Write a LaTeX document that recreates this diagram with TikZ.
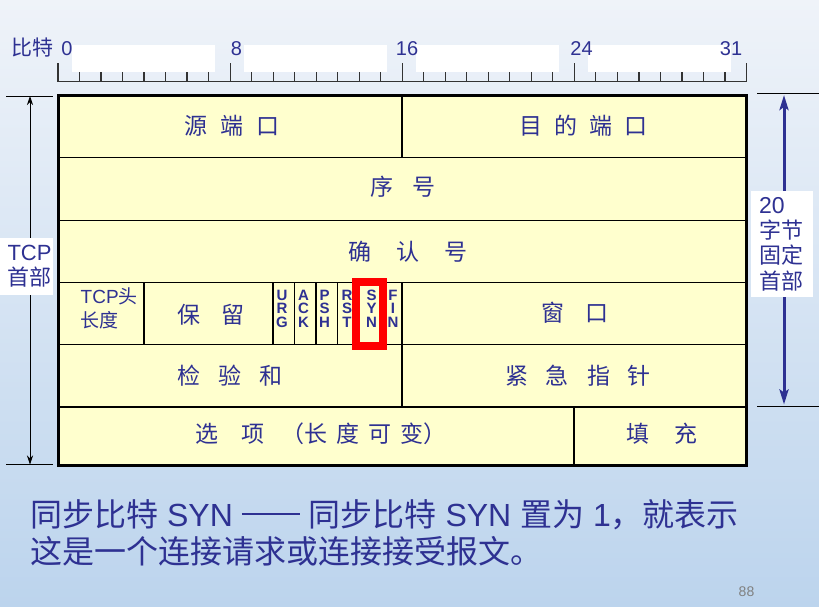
\documentclass[tikz,border=0pt]{standalone}
\usepackage{fontspec}
\setmainfont{Liberation Sans}
\newfontfamily\cjk{Noto Sans CJK SC}
\usetikzlibrary{arrows.meta}
\definecolor{navy}{RGB}{46,49,146}
\definecolor{cellfill}{RGB}{255,255,206}
\definecolor{bgtop}{RGB}{239,243,249}
\definecolor{bgmid}{RGB}{216,229,243}
\definecolor{bgbot}{RGB}{188,212,237}
\newcommand\hg[1]{\hspace{#1pt}}
\begin{document}
\begin{tikzpicture}[x=1pt,y=-1pt,
  cell/.style={inner sep=0pt, text=navy, font=\cjk\fontsize{23}{27}\selectfont},
  flag/.style={inner sep=0pt, text=navy, font=\bfseries\fontsize{15}{15}\selectfont},
  rul/.style={inner sep=0pt, text=navy, anchor=base, font=\fontsize{20}{24}\selectfont},
  thin/.style={line width=1.3pt, black},
  side/.style={inner sep=0pt, text=navy},
  bottomtxt/.style={inner sep=0pt, text=navy, anchor=base west, font=\fontsize{32}{38}\selectfont}
]
\useasboundingbox (0,0) rectangle (819,606);
\shade[top color=bgtop, middle color=bgmid, bottom color=bgbot] (0,0) rectangle (819,606);

% ruler
\fill[white] (72,45) rectangle (215,72);
\fill[white] (244,45) rectangle (387,72);
\fill[white] (416,45) rectangle (559,72);
\fill[white] (588,45) rectangle (731,72);
\draw[line width=1.2pt, black!80] (58,81.5) -- (746.5,81.5);
\foreach \i in {0,...,32}{
  \pgfmathsetmacro\xx{58+\i*21.5156}
  \pgfmathtruncatemacro\mm{mod(\i,8)}
  \ifnum\mm=0
    \draw[line width=1.2pt, black!80] (\xx,63) -- (\xx,81.5);
  \else
    \draw[line width=1.2pt, black!80] (\xx,72) -- (\xx,81.5);
  \fi
}
\node[rul, font=\cjk\fontsize{21}{24}\selectfont] (bitlbl) at (32.5,55) {比特};
\node[rul] (b0) at (67,55) {0};
\node[rul] (b8) at (236.5,55) {8};
\node[rul] (b16) at (407,55) {16};
\node[rul] (b24) at (581.5,55) {24};
\node[rul] (b31) at (731,55) {31};

% table
\fill[cellfill] (58,95.5) rectangle (746.5,465);
\draw[thin] (58,157.5) -- (746.5,157.5);
\draw[thin] (58,220.5) -- (746.5,220.5);
\draw[thin] (58,282.5) -- (746.5,282.5);
\draw[thin] (58,344.5) -- (746.5,344.5);
\draw[thin] (58,407) -- (746.5,407);
\draw[thin] (402,95.5) -- (402,157.5);
\draw[thin] (402,282.5) -- (402,407);
\draw[thin] (144,282.5) -- (144,344.5);
\foreach \xx in {273,294.5,316,337.5,359,380.5}{
  \draw[thin] (\xx,282.5) -- (\xx,344.5);
}
\draw[thin] (574,407) -- (574,465);
\draw[line width=3pt, black] (58,95.5) rectangle (746.5,465);

\node[cell] (src) at (232,126) {源\hg{13}端\hg{13}口};
\node[cell] (dst) at (583.5,126) {目\hg{12}的\hg{12}端\hg{12}口};
\node[cell] (seq) at (402.7,187) {序\hg{19}号};
\node[cell] (ack) at (408,252) {确\hg{25}认\hg{25}号};
\node[inner sep=0pt, text=navy, anchor=west, align=left, font=\fontsize{19}{24}\selectfont] (hlen) at (80.5,308) {TCP{\cjk 头}\\{\cjk 长度}};
\node[cell] (rsv) at (210.5,315) {保\hg{21}留};
\node[cell] (win) at (575,313) {窗\hg{21}口};
\node[cell] (chk) at (230,376) {检\hg{18}验\hg{18}和};
\node[cell] (urgp) at (578,376) {紧\hg{18}急\hg{18}指\hg{18}针};
\node[cell, anchor=west] (opt) at (195,434) {选\hg{23}项\hg{17}（长\hg{9}度\hg{9}可\hg{9}变）};
\node[cell] (pad) at (662,434) {填\hg{25}充};

% flag letters, one node per letter
\foreach \xx/\a/\b/\c/\nm in {282/U/R/G/urg, 303.5/A/C/K/ack, 324.5/P/S/H/psh, 347/R/S/T/rst, 371.5/S/Y/N/syn, 393/F/I/N/fin}{
  \node[flag] (\nm-1) at (\xx,295.2) {\a};
  \node[flag] (\nm-2) at (\xx,308.6) {\b};
  \node[flag] (\nm-3) at (\xx,322) {\c};
}

\draw[red, line width=8pt] (355.5,282) rectangle (382.5,346);

% left arrow
\coordinate (lt) at (30,96);
\coordinate (lb) at (30,464.5);
\coordinate (lt1) at (6,96);
\coordinate (lt2) at (53,96);
\coordinate (lb1) at (6,464.5);
\coordinate (lb2) at (53,464.5);
\draw[line width=0.8pt] (lt1) -- (lt2);
\draw[line width=0.8pt] (lb1) -- (lb2);
\draw[line width=0.8pt, {Stealth[length=9pt,width=6pt]}-{Stealth[length=9pt,width=6pt]}] (lt) -- (lb);
\node[fill=white, minimum width=53pt, minimum height=57pt, inner sep=0pt] (lbox) at (26.5,266.5) {};
\node[side, align=center, font=\fontsize{22}{25}\selectfont] (llbl) at (29.5,266) {TCP\\{\cjk 首部}};

% right arrow
\coordinate (rt) at (784,95);
\coordinate (rb) at (784,404.5);
\coordinate (rt1) at (757,93.5);
\coordinate (rt2) at (819,93.5);
\coordinate (rb1) at (757,406);
\coordinate (rb2) at (819,406);
\draw[line width=0.8pt] (rt1) -- (rt2);
\draw[line width=0.8pt] (rb1) -- (rb2);
\draw[navy, line width=3pt, {Stealth[length=15pt,width=9pt,inset=3pt]}-{Stealth[length=15pt,width=9pt,inset=3pt]}] (rt) -- (rb);
\node[fill=white, minimum width=62pt, minimum height=106pt, inner sep=0pt] (rbox) at (782,244) {};
\node[side, anchor=west, align=left, font=\fontsize{22}{25.3}\selectfont] (rlbl) at (759,244) {{\fontsize{23}{25.3}\selectfont 20}\\{\cjk 字节}\\{\cjk 固定}\\{\cjk 首部}};

% bottom text
\node[bottomtxt] (line1) at (30,526) {{\cjk 同步比特} SYN \rule[0.33em]{58pt}{2.6pt} {\cjk 同步比特} SYN {\cjk 置为} 1{\cjk ，就表示}};
\node[bottomtxt] (line2) at (30,563) {{\cjk 这是一个连接请求或连接接受报文。}};
\node[inner sep=0pt, text=black!50, font=\fontsize{14}{16}\selectfont] (pgno) at (746.5,592) {88};
\end{tikzpicture}
\end{document}
